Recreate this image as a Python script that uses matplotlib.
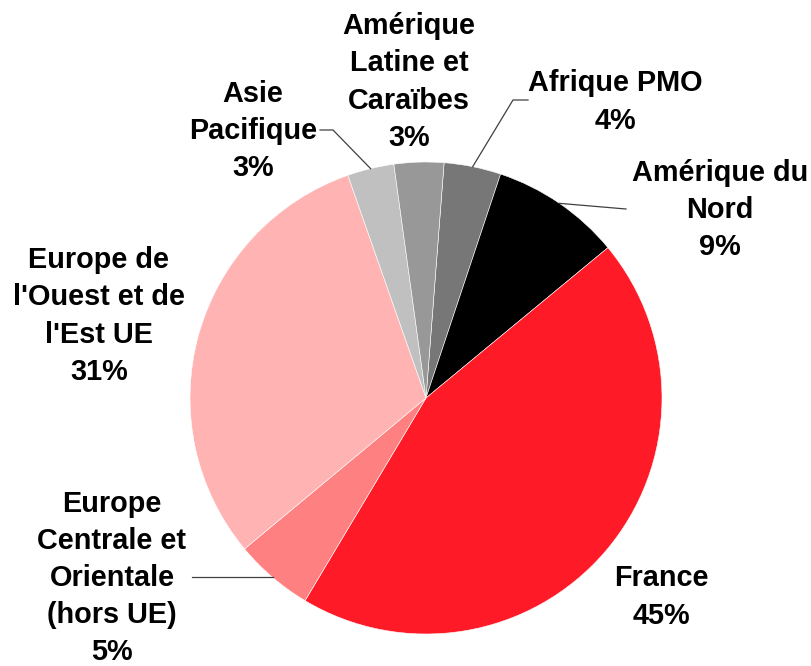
import numpy as np
import matplotlib
matplotlib.use("Agg")
import matplotlib.pyplot as plt

# ---- data ----
categories = ["Afrique PMO", "Amérique du\nNord", "France",
              "Europe\nCentrale et\nOrientale\n(hors UE)",
              "Europe de\nl'Ouest et de\nl'Est UE",
              "Asie\nPacifique", "Amérique\nLatine et\nCaraïbes"]
values = [3.9, 8.9, 44.6, 5.4, 30.7, 3.2, 3.4]
colors = ["#777777", "#000000", "#FF1A27", "#FF8080", "#FFB3B3", "#C0C0C0", "#989898"]

W, H = 812, 666
fig = plt.figure(figsize=(W / 100, H / 100), dpi=100)
ax = fig.add_axes([0, 0, 1, 1])

cx, cy, R = 426, H - 398, 236
wedges, _ = ax.pie(values, colors=colors, startangle=85.6, counterclock=False,
                   center=(cx, cy), radius=R, frame=True,
                   wedgeprops=dict(edgecolor="white", linewidth=0.4))
ax.set_xlim(0, W)
ax.set_ylim(0, H)
ax.set_aspect("equal")
ax.axis("off")

total = sum(values)
pcts = [f"{round(v / total * 100):.0f}%" for v in values]

# label positions (pixel coords, top-left origin)
label_pos = [(615, 102), (720, 210), (661, 597), (112, 578), (99, 316), (253, 131), (409, 82)]
for lab, p, (px, py) in zip(categories, pcts, label_pos):
    ax.text(px, H - py, lab + "\n" + p, ha="center", va="center", multialignment="center",
            fontsize=20.8, fontweight="bold", family="Liberation Sans", linespacing=1.42,
            color="black")

def edge_point(w):
    ang = np.deg2rad((w.theta1 + w.theta2) / 2)
    return cx + R * np.cos(ang), cy + R * np.sin(ang)

lc = "#404040"
# Afrique PMO leader
ex, ey = edge_point(wedges[0])
ax.plot([ex, 513, 528], [ey, H - 100, H - 100], color=lc, lw=0.9)
# Amérique du Nord leader
ex, ey = edge_point(wedges[1])
ax.plot([ex, 626], [ey, H - 209], color=lc, lw=0.9)
# Europe Centrale leader
ex, ey = edge_point(wedges[3])
ax.plot([ex, 192], [ey, ey], color=lc, lw=0.9)
# Asie Pacifique leader
ex, ey = edge_point(wedges[5])
ax.plot([ex, 333, 320], [ey, H - 130, H - 130], color=lc, lw=0.9)

fig.savefig("out.png", dpi=100)
